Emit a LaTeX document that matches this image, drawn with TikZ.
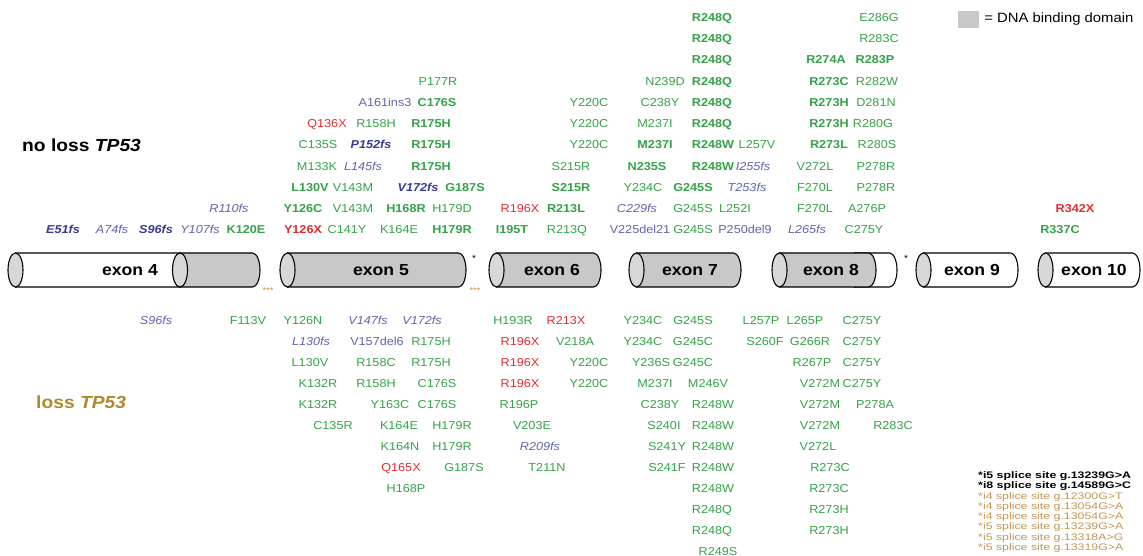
\documentclass[tikz,border=0pt]{standalone}
\usepackage{fontspec}
\setmainfont{Liberation Sans}[FakeStretch=1.1]
\newfontfamily\splicefont{Liberation Sans}[FakeStretch=1.3]
\usetikzlibrary{positioning}
\definecolor{misgreen}{RGB}{52,162,72}
\definecolor{nonred}{RGB}{226,44,50}
\definecolor{fsblue}{RGB}{98,98,176}
\definecolor{fsdark}{RGB}{58,58,150}
\definecolor{losstan}{RGB}{176,136,46}
\definecolor{splicetan}{RGB}{192,150,84}
\definecolor{astorange}{RGB}{212,142,52}
\definecolor{exongrey}{RGB}{200,200,200}
\definecolor{exonend}{RGB}{216,216,216}
\newcommand{\mutsize}{\fontsize{11.5}{13}\selectfont}
\newcommand{\exonpipe}[3]{%
	\filldraw[fill=#3, line width=1.1pt] (#1,-253) -- (#2,-253)
		arc[start angle=90, end angle=-90, x radius=7.5, y radius=17]
		-- (#1,-287) -- cycle;
	\filldraw[fill=exonend, line width=1.1pt] (#1,-270) ellipse[x radius=7.5, y radius=17];
}
\tikzset{
	mut/.style={inner sep=0pt, text height=8.3pt, text depth=0pt, font=\mutsize},
	mis/.style={mut, text=misgreen},
	misb/.style={mis, font=\mutsize\bfseries},
	nons/.style={mut, text=nonred},
	nonsb/.style={nons, font=\mutsize\bfseries},
	fshift/.style={mut, text=fsblue, font=\mutsize\itshape},
	fshiftb/.style={mut, text=fsdark, font=\mutsize\bfseries\itshape},
	indel/.style={mut, text=fsblue},
	side/.style={inner sep=0pt, anchor=west, font=\fontsize{17.5}{20}\selectfont\bfseries},
	exonlbl/.style={inner sep=0pt, font=\fontsize{16}{18}\selectfont\bfseries},
	astx/.style={inner sep=0pt, text=astorange, font=\fontsize{8.5}{8.5}\selectfont},
	spl/.style={inner sep=0pt, anchor=west, text=splicetan, font=\splicefont\fontsize{9.5}{10}\selectfont},
	splb/.style={spl, text=black, font=\splicefont\fontsize{9.5}{10}\selectfont\bfseries},
}

\begin{document}
\begin{tikzpicture}[x=1pt, y=1pt]
	\useasboundingbox (0,-556) rectangle (1143,0);
	% legend
	\node[fill=exongrey, minimum width=21pt, minimum height=17pt, inner sep=0pt] (dbd) at (968.5,-19.5) {};
	\node[right=5pt of dbd, inner sep=0pt, font=\fontsize{13.5}{16}\selectfont] (dbdtxt) {= DNA binding domain};
	\node[side] (noloss) at (22,-145) {no loss \textit{TP53}};
	\node[side, text=losstan] (loss) at (36,-402) {loss \textit{TP53}};

	% exons
	\exonpipe{15.5}{180}{white}
	\exonpipe{180}{252.5}{exongrey}
	\exonpipe{287.5}{458.5}{exongrey}
	\exonpipe{496.5}{593.5}{exongrey}
	\exonpipe{636.5}{733.5}{exongrey}
	\exonpipe{855}{889.5}{white}
	\exonpipe{779.5}{868.5}{exongrey}
	\exonpipe{923.5}{1010.5}{white}
	\exonpipe{1045.5}{1132.5}{white}
	\node[exonlbl] (ex4) at (130,-270) {exon 4};
	\node[exonlbl] (ex5) at (381,-270) {exon 5};
	\node[exonlbl] (ex6) at (552,-270) {exon 6};
	\node[exonlbl] (ex7) at (690,-270) {exon 7};
	\node[exonlbl] (ex8) at (831,-270) {exon 8};
	\node[exonlbl] (ex9) at (972,-270) {exon 9};
	\node[exonlbl] (ex10) at (1094,-270) {exon 10};
	\node[astx] (i4) at (268,-291) {***};
	\node[astx] (i5) at (475,-291) {***};
	\node[inner sep=0pt, font=\fontsize{9}{9}\selectfont] (i5b) at (474,-258) {*};
	\node[inner sep=0pt, font=\fontsize{9}{9}\selectfont] (i8) at (906,-258) {*};

	% no loss, from the bar upwards
	\foreach \yy/\row [count=\r] in {
		229/{63/fshiftb/E51fs, 112/fshift/A74fs, 156/fshiftb/S96fs, 200/fshift/Y107fs, 246/misb/K120E, 303/nonsb/Y126X, 347/mis/C141Y, 399/mis/K164E, 452/misb/H179R, 512/misb/I195T, 567/mis/R213Q, 640/indel/V225del21, 693/mis/G245S, 745/indel/P250del9, 807/fshift/L265fs, 864/mis/C275Y, 1060/misb/R337C},
		208/{229/fshift/R110fs, 303/misb/Y126C, 353/mis/V143M, 406/misb/H168R, 452/mis/H179D, 520/nons/R196X, 566/misb/R213L, 637/fshift/C229fs, 693/mis/G245S, 735/mis/L252I, 815/mis/F270L, 867/mis/A276P, 1075/nonsb/R342X},
		187/{310/misb/L130V, 353/mis/V143M, 418/fshiftb/V172fs, 465/misb/G187S, 571/misb/S215R, 643/mis/Y234C, 693/misb/G245S, 747/fshift/T253fs, 815/mis/F270L, 876/mis/P278R},
		166/{317/mis/M133K, 363/fshift/L145fs, 431/misb/R175H, 571/mis/S215R, 647/misb/N235S, 713/misb/R248W, 753/fshift/I255fs, 815/mis/V272L, 876/mis/P278R},
		144.5/{318/mis/C135S, 371/fshiftb/P152fs, 431/misb/R175H, 589/mis/Y220C, 655/misb/M237I, 713/misb/R248W, 757/mis/L257V, 829/misb/R273L, 877/mis/R280S},
		123/{327/nons/Q136X, 376/mis/R158H, 431/misb/R175H, 589/mis/Y220C, 655/mis/M237I, 712/misb/R248Q, 829/misb/R273H, 873/mis/R280G},
		102/{385/indel/A161ins3, 437/misb/C176S, 589/mis/Y220C, 660/mis/C238Y, 712/misb/R248Q, 829/misb/R273H, 876/mis/D281N},
		81/{438/mis/P177R, 665/mis/N239D, 712/misb/R248Q, 829/misb/R273C, 877/mis/R282W},
		59.5/{712/misb/R248Q, 826/misb/R274A, 875/misb/R283P},
		38/{712/misb/R248Q, 879/mis/R283C},
		17/{712/misb/R248Q, 879/mis/E286G}}
		\foreach \xx/\sty/\tx [count=\i] in \row
			\node[\sty] (up\r-\i) at (\xx,-\yy) {\tx};

	% loss, from the bar downwards
	\foreach \yy/\row [count=\r] in {
		320/{156/fshift/S96fs, 248/mis/F113V, 303/mis/Y126N, 368/fshift/V147fs, 422/fshift/V172fs, 513/mis/H193R, 566/nons/R213X, 643/mis/Y234C, 693/mis/G245S, 761/mis/L257P, 805/mis/L265P, 862/mis/C275Y},
		341/{311/fshift/L130fs, 377/indel/V157del6, 431/mis/R175H, 520/nons/R196X, 575/mis/V218A, 643/mis/Y234C, 693/mis/G245C, 765/mis/S260F, 810/mis/G266R, 862/mis/C275Y},
		362/{310/mis/L130V, 376/mis/R158C, 431/mis/R175H, 520/nons/R196X, 589/mis/Y220C, 651/mis/Y236S, 693/mis/G245C, 812/mis/R267P, 862/mis/C275Y},
		383/{318/mis/K132R, 376/mis/R158H, 437/mis/C176S, 520/nons/R196X, 589/mis/Y220C, 655/mis/M237I, 708/mis/M246V, 820/mis/V272M, 862/mis/C275Y},
		404/{318/mis/K132R, 390/mis/Y163C, 437/mis/C176S, 519/mis/R196P, 660/mis/C238Y, 713/mis/R248W, 820/mis/V272M, 875/mis/P278A},
		425/{333/mis/C135R, 399/mis/K164E, 452/mis/H179R, 532/mis/V203E, 664/mis/S240I, 713/mis/R248W, 820/mis/V272M, 893/mis/R283C},
		446/{400/mis/K164N, 452/mis/H179R, 540/fshift/R209fs, 667/mis/S241Y, 713/mis/R248W, 818/mis/V272L},
		467/{401/nons/Q165X, 464/mis/G187S, 547/mis/T211N, 667/mis/S241F, 713/mis/R248W, 830/mis/R273C},
		488/{406/mis/H168P, 713/mis/R248W, 829/mis/R273C},
		509/{712/mis/R248Q, 829/mis/R273H},
		530/{712/mis/R248Q, 829/mis/R273H},
		551/{718/mis/R249S}}
		\foreach \xx/\sty/\tx [count=\i] in \row
			\node[\sty] (dn\r-\i) at (\xx,-\yy) {\tx};

	% splice sites
	\foreach \sty/\tx [count=\i] in {splb/*i5 splice site g.13239G>A, splb/*i8 splice site g.14589G>C,
		spl/*i4 splice site g.12300G>T, spl/*i4 splice site g.13054G>A, spl/*i4 splice site g.13054G>A,
		spl/*i5 splice site g.13239G>A, spl/*i5 splice site g.13318A>G, spl/*i5 splice site g.13319G>A}
		\node[\sty] (splice\i) at (978,{-476-10.3*(\i-1)}) {\tx};
\end{tikzpicture}
\end{document}
